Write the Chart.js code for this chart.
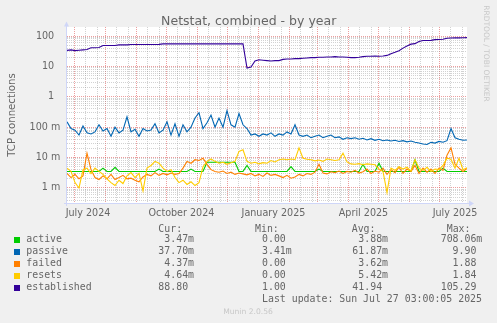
<!DOCTYPE html>
<html>
<head>
<meta charset="utf-8">
<title>Netstat, combined - by year</title>
<script src="https://cdn.jsdelivr.net/npm/chart.js@4.4.1/dist/chart.umd.min.js"></script>
<style>
  html, body { margin: 0; padding: 0; background: #f0f0f0; }
  #wrap { width: 497px; height: 323px; }
</style>
</head>
<body>
<div id="wrap"><canvas id="netstat" width="497" height="323"></canvas></div>
<script>
// ============================================
//  Munin netstat — yearly view, log scale
// ============================================

// one sample every 4 days over the 400 day window
const sampleStepDays = 4;

const active = [
  0.0035, 0.0035, 0.0035, 0.0035, 0.0035, 0.0035, 0.0035, 0.0035, 0.0035, 0.0045,
  0.0035, 0.0035, 0.0048, 0.0035, 0.0035, 0.0035, 0.0035, 0.0035, 0.0035, 0.0035,
  0.0035, 0.0035, 0.0035, 0.0042, 0.0035, 0.0035, 0.0035, 0.0035, 0.0035, 0.0035,
  0.0035, 0.0042, 0.0035, 0.0035, 0.0035, 0.007, 0.007, 0.007, 0.007, 0.007,
  0.007, 0.007, 0.007, 0.0035, 0.0035, 0.0055, 0.0035, 0.0035, 0.0035, 0.0035,
  0.0035, 0.0035, 0.0035, 0.0035, 0.0035, 0.0035, 0.005, 0.0035, 0.0035, 0.0035,
  0.0035, 0.0035, 0.0035, 0.0042, 0.0035, 0.0035, 0.0035, 0.0035, 0.0035, 0.0035,
  0.0035, 0.0035, 0.0035, 0.0035, 0.006, 0.0035, 0.0035, 0.0035, 0.0065, 0.0035,
  0.0035, 0.0035, 0.0035, 0.0035, 0.0035, 0.0035, 0.0035, 0.0083, 0.0035, 0.0035,
  0.0035, 0.0035, 0.0035, 0.0035, 0.0045, 0.0035, 0.0035, 0.0035, 0.0035, 0.0035,
  0.00347
];

const passive = [
  0.15, 0.09, 0.08, 0.055, 0.11, 0.065, 0.06, 0.07, 0.12, 0.075,
  0.09, 0.05, 0.1, 0.065, 0.08, 0.22, 0.07, 0.085, 0.05, 0.09,
  0.075, 0.08, 0.13, 0.065, 0.08, 0.15, 0.055, 0.13, 0.05, 0.12,
  0.07, 0.1, 0.2, 0.3, 0.09, 0.14, 0.25, 0.1, 0.2, 0.1,
  0.35, 0.12, 0.1, 0.28, 0.12, 0.09, 0.055, 0.06, 0.05, 0.06,
  0.055, 0.065, 0.05, 0.06, 0.055, 0.07, 0.06, 0.12, 0.055, 0.05,
  0.055, 0.045, 0.05, 0.055, 0.045, 0.05, 0.055, 0.045, 0.048, 0.04,
  0.045, 0.042, 0.045, 0.04, 0.043, 0.038, 0.042, 0.037, 0.04, 0.036,
  0.038, 0.035, 0.037, 0.034, 0.036, 0.033, 0.035, 0.032, 0.03, 0.028,
  0.027, 0.032, 0.03, 0.034, 0.032, 0.036, 0.09, 0.045, 0.04, 0.037,
  0.0377
];

const failed = [
  0.003, 0.0022, 0.0028, 0.002, 0.0025, 0.014, 0.004, 0.0022, 0.0019, 0.0025,
  0.002, 0.0028, 0.0019, 0.0022, 0.0026, 0.002, 0.0021, 0.0018, 0.0016, 0.0023,
  0.0028, 0.0025, 0.0032, 0.0026, 0.003, 0.0027, 0.0031, 0.0028, 0.003, 0.0045,
  0.0075, 0.0065, 0.0085, 0.008, 0.0095, 0.006, 0.004, 0.0035, 0.0033, 0.0036,
  0.003, 0.0033, 0.0028, 0.0031, 0.0029, 0.0027, 0.003, 0.0025, 0.0028, 0.0024,
  0.0031, 0.0026, 0.0028, 0.0025, 0.0022, 0.0026, 0.0021, 0.0023, 0.0028, 0.0025,
  0.003, 0.0028, 0.0033, 0.006, 0.0031, 0.0029, 0.0034, 0.0032, 0.0036, 0.003,
  0.0035, 0.0033, 0.0038, 0.0031, 0.0034, 0.0042, 0.003, 0.0036, 0.0033, 0.0045,
  0.0028, 0.004, 0.0032, 0.0048, 0.003, 0.0042, 0.0035, 0.0055, 0.003, 0.0045,
  0.0033, 0.0042, 0.003, 0.0045, 0.0038, 0.012, 0.021, 0.006, 0.0045, 0.0035,
  0.00437
];

const resets = [
  0.0045, 0.0035, 0.0015, 0.001, 0.004, 0.0045, 0.003, 0.0045, 0.0035, 0.0028,
  0.002, 0.0015, 0.0012, 0.0018, 0.0014, 0.0025, 0.0032, 0.0022, 0.003, 0.0008,
  0.0045, 0.0055, 0.0075, 0.0065, 0.0045, 0.0035, 0.004, 0.0022, 0.0015, 0.0018,
  0.0013, 0.0016, 0.0012, 0.0015, 0.005, 0.0075, 0.009, 0.0075, 0.0065, 0.007,
  0.006, 0.0068, 0.0075, 0.016, 0.018, 0.0075, 0.0065, 0.007, 0.0062, 0.0068,
  0.0065, 0.008, 0.0072, 0.0085, 0.009, 0.0085, 0.009, 0.0085, 0.021, 0.0095,
  0.0088, 0.0085, 0.0078, 0.0083, 0.0075, 0.009, 0.0085, 0.008, 0.0085, 0.014,
  0.0072, 0.0062, 0.006, 0.0063, 0.0058, 0.0062, 0.006, 0.0058, 0.0042, 0.0035,
  0.0007, 0.0045, 0.0038, 0.005, 0.0042, 0.0048, 0.0036, 0.0085, 0.0045, 0.0038,
  0.0048, 0.0035, 0.0042, 0.004, 0.0055, 0.0095, 0.0088, 0.0045, 0.0095, 0.004,
  0.00464
];

const established = [
  33.6, 35, 33, 34, 35, 36, 41, 41, 42, 49,
  49, 49, 49, 51, 51, 51, 52.5, 52.5, 52.5, 52.5,
  52.5, 52.5, 52.5, 53, 55, 55, 55, 55, 55, 55,
  55, 55, 55, 55, 55, 55, 55, 55, 55, 55,
  55, 55, 55, 55, 55, 8.8, 9.5, 15, 16.5, 16,
  15.5, 15, 15.5, 15.5, 17, 17.5, 17.5, 18, 18, 18.5,
  19, 19.5, 19.5, 20, 20, 20.5, 20.5, 21, 20.5, 20.5,
  20, 19.5, 19.5, 20, 21, 21.5, 21.5, 22, 21.5, 22,
  23, 26, 29, 33, 40, 47, 54, 56, 66, 71,
  71, 72, 76, 77, 78, 84, 86, 87, 87, 88,
  88.8
];

const sampleDays = established.map((_, i) => i * sampleStepDays);

const seriesNames  = ["active", "passive", "failed", "resets", "established"];
const seriesValues = [active, passive, failed, resets, established];
const seriesColors = ["#00cc00", "#0066b3", "#ff8000", "#ffcc00", "#330099"];

// legend columns, printf style "%6.2lf%s"
const legendCur = ["  3.47m", " 37.70m", "  4.37m", "  4.64m", " 88.80 "];
const legendMin = ["  0.00 ", "  3.41m", "  0.00 ", "  0.00 ", "  1.00 "];
const legendAvg = ["  3.88m", " 61.87m", "  3.62m", "  5.42m", " 41.94 "];
const legendMax = ["708.06m", "  9.90 ", "  1.88 ", "  1.84 ", "105.29 "];

// time axis (days from window start)
const monthStartDays = [7, 38, 69, 99, 130, 160, 191, 222, 250, 281, 311, 342, 372];
const xTickDays   = [21, 114.5, 206.5, 296.5, 388];
const xTickLabels = ["July 2024", "October 2024", "January 2025", "April 2025", "July 2025"];

const yTickValues = [100, 10, 1, 0.1, 0.01, 0.001];
const yTickLabels = ["100  ", "10  ", "1  ", "100 m", "10 m", "1 m"];

// ── Colours ──────────────────────────────────
const FONT_COL = "#666666";
const AXIS_COL = "#cfd6f8";
const GRID_COL = "rgba(143,143,143,0.4)";
const MGRID_COL = "rgba(222,79,79,0.55)";

const gridColor = ctx => {
  const t = ctx.tick;
  if (!t || t.lbl !== undefined) return "rgba(0,0,0,0)";
  return t.mg ? MGRID_COL : GRID_COL;
};

// ── Frame, title, legend ─────────────────────
const muninFrame = {
  id: "muninFrame",
  beforeDraw(chart) {
    const { ctx, chartArea: a } = chart;
    ctx.save();
    ctx.fillStyle = "#f0f0f0";
    ctx.fillRect(0, 0, chart.width, chart.height);
    ctx.fillStyle = "#ffffff";
    ctx.fillRect(a.left, a.top, a.right - a.left, a.bottom - a.top);
    ctx.restore();
  },
  afterDraw(chart) {
    const { ctx, chartArea: a } = chart;
    ctx.save();

    // axes + arrows
    ctx.strokeStyle = AXIS_COL;
    ctx.fillStyle = AXIS_COL;
    ctx.lineWidth = 1;
    ctx.beginPath();
    ctx.moveTo(a.left - 0.5, a.bottom + 3);
    ctx.lineTo(a.left - 0.5, a.top - 1);
    ctx.moveTo(a.left - 3, a.bottom + 0.5);
    ctx.lineTo(a.right + 3, a.bottom + 0.5);
    ctx.stroke();
    ctx.beginPath();
    ctx.moveTo(a.left - 0.5, a.top - 5.5);
    ctx.lineTo(a.left - 3, a.top - 0.5);
    ctx.lineTo(a.left + 2, a.top - 0.5);
    ctx.closePath();
    ctx.fill();
    ctx.beginPath();
    ctx.moveTo(a.right + 7, a.bottom + 0.5);
    ctx.lineTo(a.right + 2, a.bottom - 2.5);
    ctx.lineTo(a.right + 2, a.bottom + 3.5);
    ctx.closePath();
    ctx.fill();

    // title
    ctx.fillStyle = FONT_COL;
    ctx.font = '12.5px "DejaVu Sans"';
    ctx.textAlign = "center";
    ctx.textBaseline = "alphabetic";
    ctx.fillText("Netstat, combined - by year", 248.7, 25);

    // vertical axis title
    ctx.save();
    ctx.translate(15, (a.top + a.bottom) / 2);
    ctx.rotate(-Math.PI / 2);
    ctx.font = '10.2px "DejaVu Sans"';
    ctx.fillText("TCP connections", 0, 0);
    ctx.restore();

    // watermark on the right
    ctx.save();
    ctx.translate(484.3, 53.5);
    ctx.rotate(Math.PI / 2);
    ctx.fillStyle = "#c8c8c8";
    ctx.font = '7.5px "DejaVu Sans"';
    ctx.fillText("RRDTOOL / TOBI OETIKER", 0, 0);
    ctx.restore();

    // legend table
    ctx.font = '9.9px "DejaVu Sans Mono"';
    ctx.textAlign = "left";
    ctx.textBaseline = "middle";
    ctx.fillStyle = FONT_COL;
    ctx.fillText("Cur:", 158.3, 229);
    ctx.fillText("Min:", 255, 229);
    ctx.fillText("Avg:", 351.7, 229);
    ctx.fillText("Max:", 446.7, 229);
    seriesNames.forEach((name, i) => {
      const y = 239.7 + i * 12;
      ctx.fillStyle = seriesColors[i];
      ctx.fillRect(14, Math.round(y - 3), 6, 6);
      ctx.fillStyle = FONT_COL;
      ctx.fillText(name, 26.3, y);
      ctx.fillText(legendCur[i], 152.4, y);
      ctx.fillText(legendMin[i], 250.1, y);
      ctx.fillText(legendAvg[i], 346.4, y);
      ctx.fillText(legendMax[i], 440.7, y);
    });
    ctx.fillText("Last update: Sun Jul 27 03:00:05 2025", 262, 299.7);

    ctx.fillStyle = "#c8c8c8";
    ctx.font = '7.6px "DejaVu Sans"';
    ctx.textAlign = "center";
    ctx.fillText("Munin 2.0.56", 248, 312.3);
    ctx.restore();
  }
};

new Chart(document.getElementById("netstat"), {
  type: "line",
  data: {
    datasets: seriesNames.map((name, i) => ({
      label: name,
      data: sampleDays.map((d, k) => ({ x: d, y: seriesValues[i][k] })),
      borderColor: seriesColors[i],
      borderWidth: 1.1,
      pointRadius: 0,
      tension: 0,
      fill: false,
      order: seriesNames.length - i
    }))
  },
  options: {
    responsive: false,
    animation: false,
    events: [],
    layout: { padding: { top: 27, right: 30, bottom: 0, left: 0 } },
    plugins: {
      legend: { display: false },
      tooltip: { enabled: false },
      title: { display: false }
    },
    scales: {
      x: {
        type: "linear",
        min: 0,
        max: 400,
        bounds: "data",
        afterBuildTicks: scale => {
          const ticks = [];
          monthStartDays.forEach((s, i) => {
            ticks.push({ value: s, mg: true });
            const next = monthStartDays[i + 1] !== undefined ? monthStartDays[i + 1] : 400;
            [s + 11.5, s + 23].forEach(m => { if (m < next - 3) ticks.push({ value: m, mg: false }); });
          });
          xTickDays.forEach((d, i) => ticks.push({ value: d, lbl: i }));
          ticks.sort((p, q) => p.value - q.value);
          scale.ticks = ticks;
        },
        afterFit: scale => { scale.height = 120; },
        ticks: {
          autoSkip: false,
          maxRotation: 0,
          minRotation: 0,
          padding: 5,
          color: FONT_COL,
          font: { family: "'DejaVu Sans'", size: 9.6 },
          callback: function (v, i, ticks) {
            const t = ticks[i];
            return t && t.lbl !== undefined ? xTickLabels[t.lbl] : "";
          }
        },
        grid: { color: gridColor, lineWidth: 1, drawTicks: false },
        border: { display: false, dash: [1, 1] }
      },
      y: {
        type: "logarithmic",
        min: 0.00032,
        max: 198,
        bounds: "data",
        afterBuildTicks: scale => {
          const ticks = [];
          for (let e = -4; e <= 2; e++) {
            for (let m = 1; m <= 9; m++) {
              const v = m * Math.pow(10, e);
              if (v >= scale.min && v <= scale.max) ticks.push({ value: v, mg: m === 1 });
            }
          }
          scale.ticks = ticks;
        },
        afterFit: scale => { scale.width = 67; },
        ticks: {
          autoSkip: false,
          padding: 6.7,
          color: FONT_COL,
          font: { family: "'DejaVu Sans'", size: 9.6 },
          callback: v => {
            const i = yTickValues.findIndex(t => Math.abs(t - v) / t < 1e-6);
            return i >= 0 ? yTickLabels[i] : "";
          }
        },
        grid: { color: gridColor, lineWidth: 1, drawTicks: false },
        border: { display: false, dash: [1, 1] }
      }
    }
  },
  plugins: [muninFrame]
});
</script>
</body>
</html>
